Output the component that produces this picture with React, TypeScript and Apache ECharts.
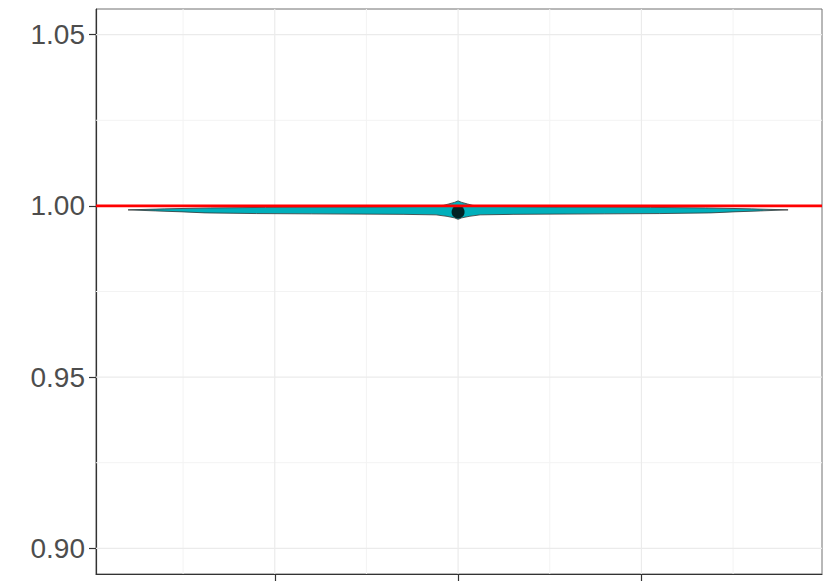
import React, { useEffect, useRef } from "react";
import * as echarts from "echarts";

// Violin outline: y values (top to bottom) and half-widths in x units
const violinY = [1.00146, 1.00102, 1.00058, 1.00015, 0.99985, 0.99971, 0.99956, 0.99942, 0.99913, 0.99884, 0.99854, 0.99825, 0.99796, 0.99776, 0.99767, 0.99753, 0.99738, 0.99694, 0.99651, 0.99607];
const violinWidth = [0, 0.02, 0.05, 0.08, 0.15, 0.5, 1.05, 1.35, 1.6, 1.8, 1.65, 1.5, 1.38, 1.1, 0.8, 0.3, 0.12, 0.06, 0.02, 0];
const violinX = 0;
const meanValue = 0.99825;
const referenceValue = 1.0;

const yTickLabels = [0.9, 0.95, 1.0, 1.05];
const yMinorGrid = [0.925, 0.975, 1.025];
const xMajorTicks = [-1, 0, 1];
const xMinorGrid = [-1.5, -0.5, 0.5, 1.5];

const X_MIN = -1.975;
const X_MAX = 1.985;
const Y_MIN = 0.8925;
const Y_MAX = 1.0575;

export default function App() {
  const ref = useRef<HTMLDivElement>(null);
  useEffect(() => {
    document.body.style.margin = "0";
    const chart = echarts.init(ref.current!, null, { renderer: "svg" });
    chart.setOption({
      animation: false,
      grid: {
        left: 96,
        right: 8,
        top: 9,
        bottom: 14,
        show: true,
        borderColor: "#707070",
        borderWidth: 1,
        backgroundColor: "#FFFFFF",
      },
      xAxis: {
        type: "value",
        min: X_MIN,
        max: X_MAX,
        splitLine: { show: false },
        axisLine: { show: true, onZero: false, lineStyle: { color: "#333333", width: 1.2 } },
        axisTick: { show: true, length: 7, customValues: xMajorTicks, lineStyle: { color: "#333333", width: 1.2 } },
        axisLabel: { show: false },
      },
      yAxis: {
        type: "value",
        min: Y_MIN,
        max: Y_MAX,
        splitLine: { show: false },
        axisLine: { show: true, onZero: false, lineStyle: { color: "#333333", width: 1.2 } },
        axisTick: { show: true, length: 7, customValues: yTickLabels, lineStyle: { color: "#333333", width: 1.2 } },
        axisLabel: {
          show: true,
          customValues: yTickLabels,
          margin: 11,
          color: "#4D4D4D",
          fontSize: 28,
          fontFamily: "Liberation Sans, Arial, sans-serif",
          formatter: (v: number) => v.toFixed(2),
        },
      },
      series: [
        {
          type: "custom",
          z: 1,
          silent: true,
          data: [[0, 1]],
          renderItem: (params: any, api: any) => {
            const children: any[] = [];
            const hLine = (v: number, major: boolean) => {
              const a = api.coord([X_MIN, v]);
              const b = api.coord([X_MAX, v]);
              children.push({
                type: "line",
                shape: { x1: a[0], y1: a[1], x2: b[0], y2: b[1] },
                style: { stroke: major ? "#EBEBEB" : "#F3F3F3", lineWidth: major ? 1.2 : 1 },
              });
            };
            const vLine = (v: number, major: boolean) => {
              const a = api.coord([v, Y_MIN]);
              const b = api.coord([v, Y_MAX]);
              children.push({
                type: "line",
                shape: { x1: a[0], y1: a[1], x2: b[0], y2: b[1] },
                style: { stroke: major ? "#EBEBEB" : "#F3F3F3", lineWidth: major ? 1.2 : 1 },
              });
            };
            yMinorGrid.forEach((v) => hLine(v, false));
            xMinorGrid.forEach((v) => vLine(v, false));
            yTickLabels.forEach((v) => hLine(v, true));
            xMajorTicks.forEach((v) => vLine(v, true));
            return { type: "group", children };
          },
        },
        {
          type: "custom",
          z: 2,
          silent: true,
          data: [[violinX, meanValue]],
          renderItem: (params: any, api: any) => {
            const right: number[][] = [];
            const left: number[][] = [];
            for (let i = 0; i < violinY.length; i++) {
              right.push(api.coord([violinX + violinWidth[i], violinY[i]]));
              left.push(api.coord([violinX - violinWidth[i], violinY[i]]));
            }
            const points = [...right, ...left.reverse()];
            return {
              type: "polygon",
              shape: { points },
              style: { fill: "#00AFBB", stroke: "#333333", lineWidth: 0.8 },
            };
          },
        },
        {
          type: "scatter",
          z: 3,
          silent: true,
          data: [[violinX, meanValue]],
          symbolSize: 13,
          itemStyle: { color: "#000000" },
        },
        {
          type: "custom",
          z: 4,
          silent: true,
          data: [[0, referenceValue]],
          renderItem: (params: any, api: any) => {
            const a = api.coord([X_MIN, referenceValue]);
            const b = api.coord([X_MAX, referenceValue]);
            return {
              type: "line",
              shape: { x1: a[0], y1: a[1], x2: b[0], y2: b[1] },
              style: { stroke: "#FF0000", lineWidth: 2.6 },
            };
          },
        },
      ],
    });
    return () => chart.dispose();
  }, []);
  return <div ref={ref} style={{ width: 830, height: 588 }} />;
}
